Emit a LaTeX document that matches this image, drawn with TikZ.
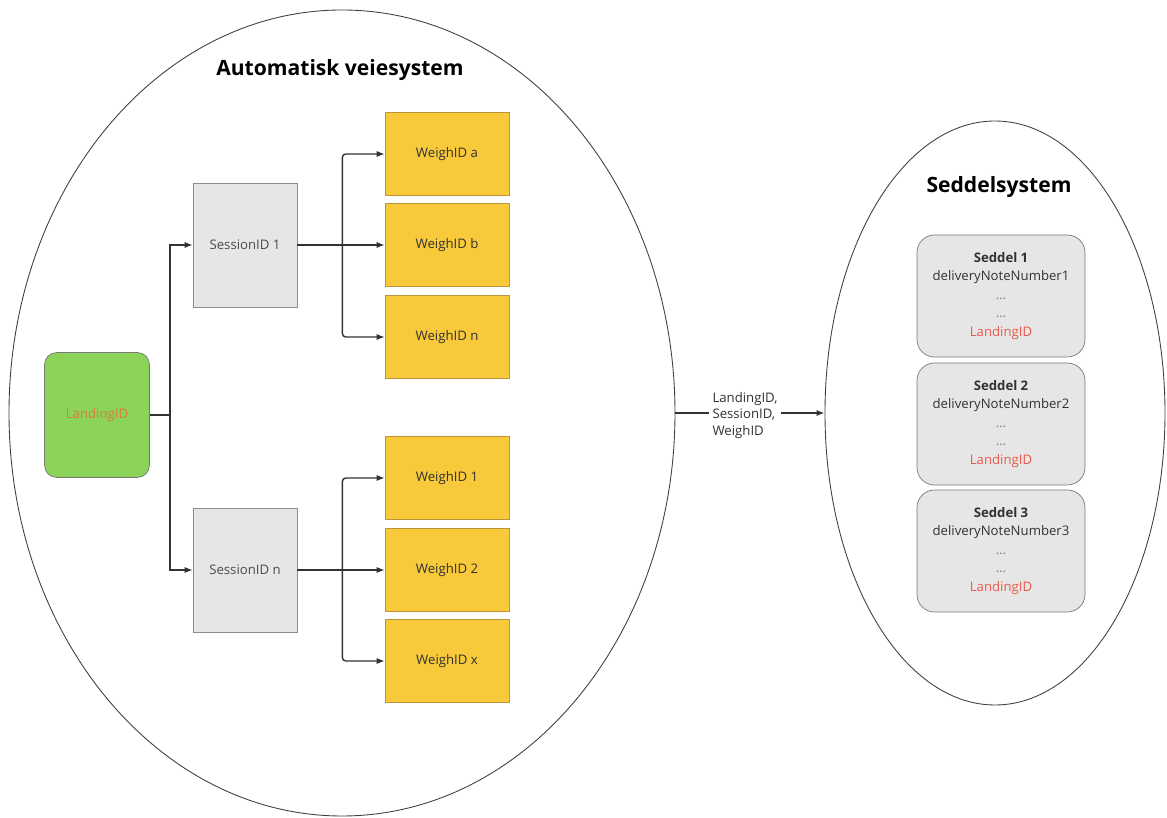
\documentclass[tikz,border=0pt]{standalone}
\usepackage{fontspec}
\setmainfont{Open Sans}
\usepackage{xcolor}
\usetikzlibrary{shapes.geometric,arrows.meta,positioning,calc}

\definecolor{landgreen}{RGB}{140,211,90}
\definecolor{landorange}{RGB}{214,128,58}
\definecolor{weighyellow}{RGB}{248,201,58}
\definecolor{weighedge}{RGB}{185,150,60}
\definecolor{sessgray}{RGB}{230,230,230}
\definecolor{noteedge}{RGB}{120,120,120}
\definecolor{notered}{RGB}{236,88,78}
\definecolor{txtdark}{RGB}{50,50,50}

\begin{document}
\begin{tikzpicture}[
  system/.style={ellipse, draw=black!75, line width=0.5pt, inner sep=0pt},
  systitle/.style={font=\fontsize{12}{14}\selectfont\bfseries, text=black},
  landing/.style={rectangle, draw=noteedge, rounded corners=7pt, fill=landgreen,
                  minimum width=2.1cm, minimum height=2.5cm,
                  font=\fontsize{7.5}{9}\selectfont, text=landorange},
  session/.style={rectangle, draw=black!45, fill=sessgray,
                  minimum width=2.08cm, minimum height=2.48cm,
                  font=\fontsize{7.5}{9}\selectfont, text=black!70},
  weigh/.style={rectangle, draw=weighedge, fill=weighyellow,
                minimum width=2.48cm, minimum height=1.66cm,
                font=\fontsize{7.5}{9}\selectfont, text=txtdark},
  seddel/.style={rectangle, draw=noteedge, rounded corners=10pt, fill=sessgray,
                 minimum width=3.36cm, minimum height=2.44cm, align=center,
                 font=\fontsize{7.5}{10.5}\selectfont, text=txtdark},
  transfer/.style={font=\fontsize{7.5}{9.6}\selectfont, text=txtdark, align=left,
                   fill=white, inner sep=2pt},
  edge/.style={draw=black!80, line width=0.8pt, -{Latex[length=4.5pt,width=3.5pt]}},
]
  \useasboundingbox (0,0) rectangle (23.34,16.36);
  \begin{scope}
  \clip (0,0) rectangle (23.34,16.36);

  % The two systems
  \node[system, minimum width=13.32cm, minimum height=16.12cm] (veie) at (6.84, 8.10) {};
  \node[system, minimum width=6.80cm, minimum height=11.68cm] (seddelsys) at (19.90, 8.10) {};
  \end{scope}
  \node[systitle] (veietitle) at (6.80, 14.96) {Automatisk veiesystem};
  \node[systitle] (seddeltitle) at (19.98, 12.62) {Seddelsystem};

  % Landing and sessions
  \node[landing] (landing) at (1.94, 8.06) {LandingID};
  \node[session] (s1) at (4.90, 11.46) {SessionID 1};
  \node[session] (sn) at (4.90, 4.96) {SessionID n};

  % Weighings
  \node[weigh] (wa) at (8.94, 13.28) {WeighID a};
  \node[weigh] (wb) at (8.94, 11.46) {WeighID b};
  \node[weigh] (wn) at (8.94, 9.62) {WeighID n};
  \node[weigh] (w1) at (8.94, 6.80) {WeighID 1};
  \node[weigh] (w2) at (8.94, 4.96) {WeighID 2};
  \node[weigh] (wx) at (8.94, 3.14) {WeighID x};

  % Delivery notes
  \node[seddel] (n1) at (20.02, 10.44)
       {\textbf{Seddel 1}\\ deliveryNoteNumber1\\ \textcolor{black!50}{\ldots}\\
        \textcolor{black!50}{\ldots}\\ \textcolor{notered}{LandingID}};
  \node[seddel] (n2) at (20.02, 7.88)
       {\textbf{Seddel 2}\\ deliveryNoteNumber2\\ \textcolor{black!50}{\ldots}\\
        \textcolor{black!50}{\ldots}\\ \textcolor{notered}{LandingID}};
  \node[seddel] (n3) at (20.02, 5.34)
       {\textbf{Seddel 3}\\ deliveryNoteNumber3\\ \textcolor{black!50}{\ldots}\\
        \textcolor{black!50}{\ldots}\\ \textcolor{notered}{LandingID}};

  % ===== Landing -> sessions =====
  \draw[edge] (landing.east) -- ++(0.4,0) |- (s1.west);
  \draw[edge] (landing.east) -- ++(0.4,0) |- (sn.west);

  % ===== Sessions -> weighings =====
  \coordinate (j1) at ($(s1.east)+(0.9,0)$);
  \coordinate (jn) at ($(sn.east)+(0.9,0)$);
  \draw[edge] (s1.east) -- (wb.west);
  \draw[edge] (sn.east) -- (w2.west);
  \foreach \w in {wa,wn}
    \draw[edge, rounded corners=2pt] (j1) |- (\w.west);
  \foreach \w in {w1,wx}
    \draw[edge, rounded corners=2pt] (jn) |- (\w.west);

  % ===== Weighing system -> note system =====
  \draw[edge] (veie.east) -- node[transfer, xshift=-0.1cm, yshift=-0.05cm]
       {LandingID,\\ SessionID,\\ WeighID} (seddelsys.west);

\end{tikzpicture}
\end{document}
